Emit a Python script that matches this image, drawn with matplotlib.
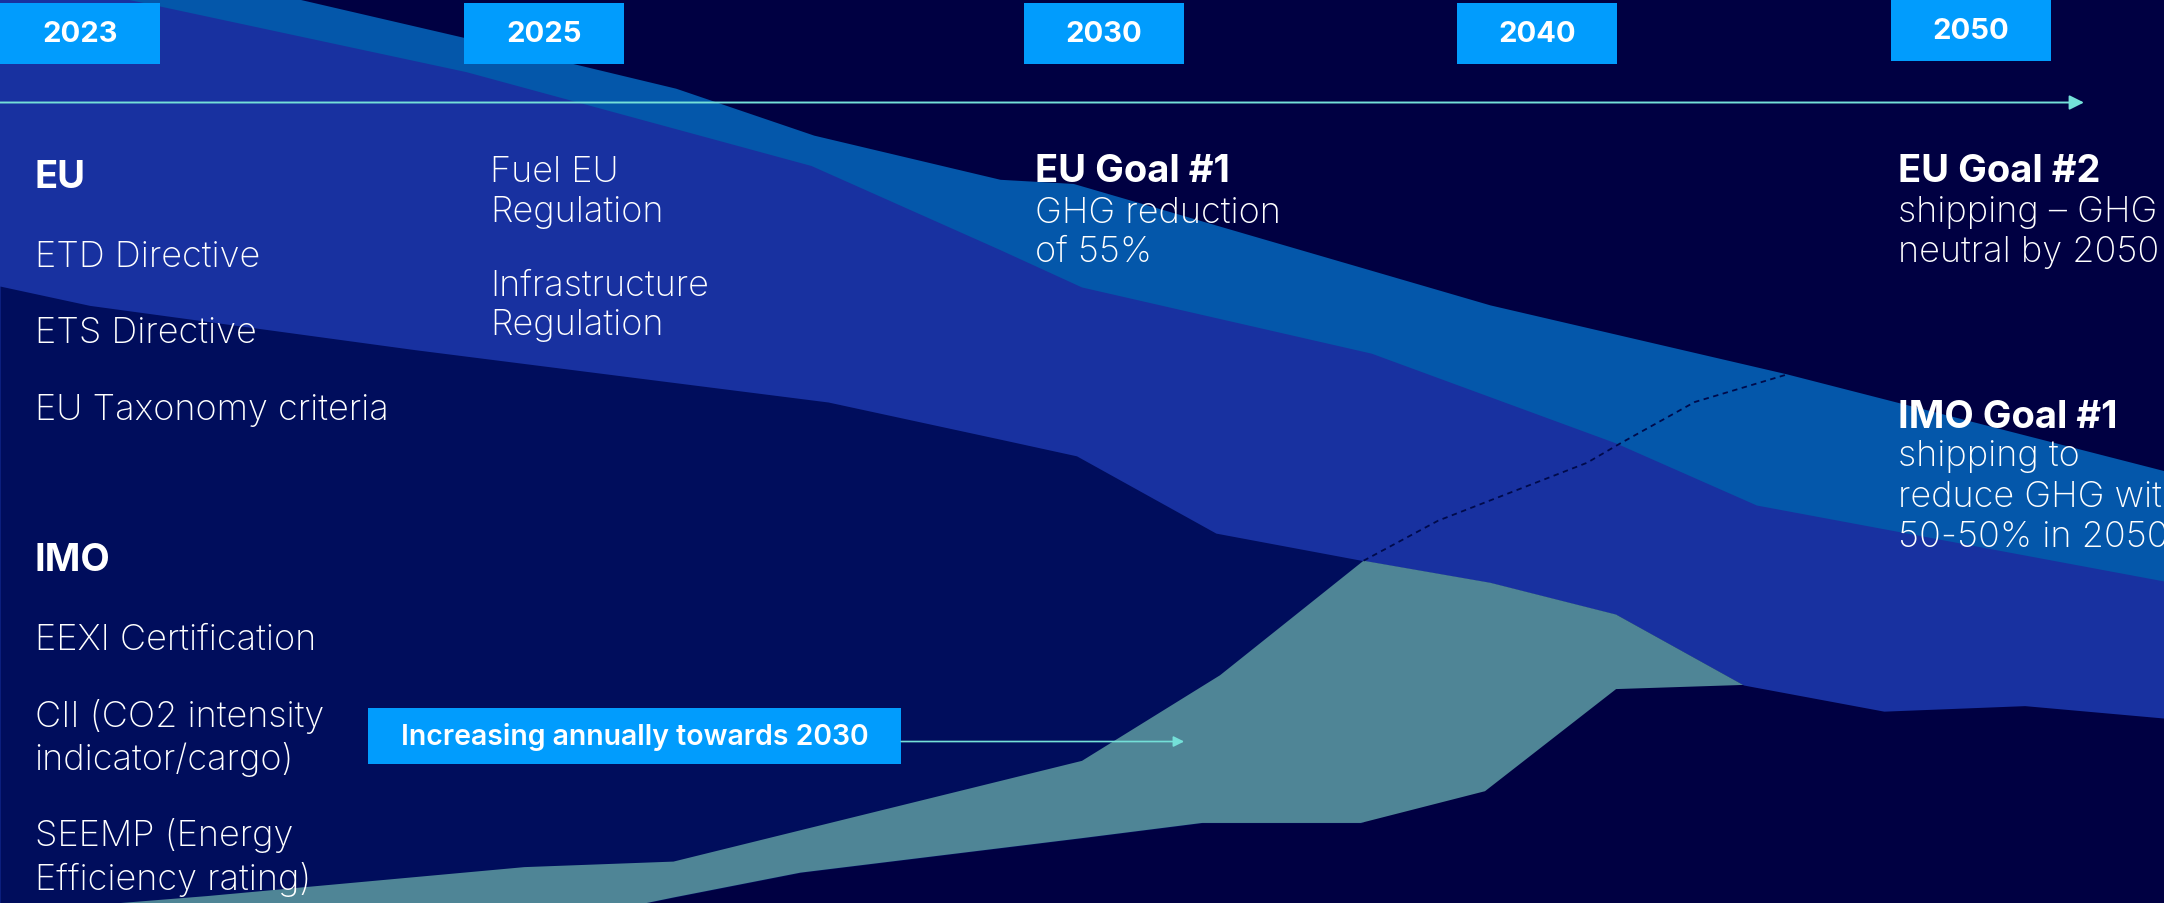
import matplotlib.pyplot as plt
import numpy as np
from matplotlib.patches import Rectangle

# band edges (x along the timeline, y from the top)
light_top_x = [0, 215, 340, 490, 590, 725, 778, 1080, 1295, 1568]
light_top_y = [-50, 0, 29, 65, 99, 131, 134, 222, 272, 342]

royal_top_x = [0, 114, 338, 588, 725, 784, 994, 1171, 1273, 1568]
royal_top_y = [-19, 5, 53, 121, 182, 209, 257, 322, 367, 422]

royal_bot_x = [0, 65, 300, 600, 725, 780, 881, 988, 1080, 1171, 1263, 1365, 1467, 1568]
royal_bot_y = [208, 222, 254, 292, 319, 331, 387, 407, 423, 446, 497, 516, 512, 521]

teal_top_x = [0, 150, 380, 488, 784, 884, 988, 1080, 1171, 1263]
teal_top_y = [662, 650, 629, 625, 552, 490, 407, 423, 446, 497]
teal_bot_x = [0, 420, 488, 580, 784, 871, 986, 1076, 1171, 1263]
teal_bot_y = [700, 665, 651, 633, 608, 597, 597, 574, 500, 497]

imo_dash_x = [988, 1042, 1150, 1174, 1228, 1295]
imo_dash_y = [407, 378, 336, 322, 292, 272]

years = ['2023', '2025', '2030', '2040', '2050']
year_box_left = [0, 336, 742, 1056, 1370]
year_box_top = [3, 3, 3, 3, 1]

# text blocks: (heading?, lines)
blocks = [
    (True, ['EU']),
    (False, ['ETD Directive']),
    (False, ['ETS Directive']),
    (False, ['EU Taxonomy criteria']),
    (True, ['IMO']),
    (False, ['EEXI Certification']),
    (False, ['CII (CO2 intensity', 'indicator/cargo)']),
    (False, ['SEEMP (Energy', 'Efficiency rating)']),
    (False, ['Fuel EU', 'Regulation']),
    (False, ['Infrastructure', 'Regulation']),
    (True, ['EU Goal #1']),
    (False, ['GHG reduction', 'of 55%']),
    (True, ['EU Goal #2']),
    (False, ['shipping \u2013 GHG', 'neutral by 2050']),
    (True, ['IMO Goal #1']),
    (False, ['shipping to', 'reduce GHG with', '50-50% in 2050']),
]
# x and first baseline of each block, line step
block_pos = [
    (25, 136), (25, 193), (25, 248), (25, 304),
    (25, 414), (25, 471), (25, 527), (25, 613),
    (355, 132), (355, 214),
    (750, 132), (750, 161),
    (1375, 132), (1375, 161),
    (1375, 310), (1375, 338),
]
block_step = [0, 0, 0, 0, 0, 0, 31, 32, 29, 29, 0, 29, 0, 29, 0, 29]

callout = 'Increasing annually towards 2030'

BG = '#000042'
MID = '#000D5C'
ROYAL = '#1831A0'
LIGHT = '#0457AA'
TEAL = '#4F8596'
BOX = '#019CFD'
ARROW = '#74E0D8'

plt.rcParams['font.family'] = ['Inter', 'DejaVu Sans']

fig = plt.figure(figsize=(21.64, 9.04), dpi=100)
ax = fig.add_axes([0, 0, 1, 1])
ax.set_facecolor(BG)
ax.set_xlim(0, 1568)
ax.set_ylim(655, 0)
ax.axis('off')
fig.patch.set_facecolor(BG)

BOTTOM = 720
ax.fill_between(light_top_x, light_top_y, BOTTOM, color=LIGHT, lw=0)
ax.fill_between(royal_top_x, royal_top_y, BOTTOM, color=ROYAL, lw=0)
rb_x = np.array(royal_bot_x)
ax.fill_between(rb_x, royal_bot_y, BOTTOM, where=rb_x <= 988, color=MID, lw=0)
ax.fill_between(rb_x, royal_bot_y, BOTTOM, where=rb_x >= 988, color=BG, lw=0)
ax.fill_between(teal_bot_x, teal_bot_y, BOTTOM, color=BG, lw=0)
ax.fill(np.concatenate([teal_top_x, teal_bot_x[::-1]]),
        np.concatenate([teal_top_y, teal_bot_y[::-1]]), color=TEAL, lw=0)
ax.plot(imo_dash_x, imo_dash_y, color='#000A4A', lw=1.3, ls=(0, (3, 2.5)))

# timeline
ax.annotate('', xy=(1510, 75), xytext=(0, 75),
            arrowprops=dict(arrowstyle='-|>', color=ARROW, lw=1.4,
                            mutation_scale=22, shrinkA=0, shrinkB=0))

for lab, left, top in zip(years, year_box_left, year_box_top):
    ax.add_patch(Rectangle((left, top), 116, 44, color=BOX, lw=0))
    ax.text(left + 58, top + 22, lab, color='white', fontsize=21,
            fontweight='bold', ha='center', va='center')

for (is_head, lines), (bx, by), step in zip(blocks, block_pos, block_step):
    for i, line in enumerate(lines):
        ax.text(bx, by + i * step, line, color='white',
                fontsize=27.5 if is_head else 26,
                fontweight='bold' if is_head else 'light',
                ha='left', va='baseline')

ax.add_patch(Rectangle((267, 514), 386, 40, color=BOX, lw=0))
ax.text(460, 534, callout, color='white', fontsize=20.5, fontweight='semibold',
        ha='center', va='center')
ax.annotate('', xy=(858, 538), xytext=(653, 538),
            arrowprops=dict(arrowstyle='-|>', color=ARROW, lw=1.2,
                            mutation_scale=16, shrinkA=0, shrinkB=0))

fig.savefig('out.png', dpi=100, facecolor=BG)
